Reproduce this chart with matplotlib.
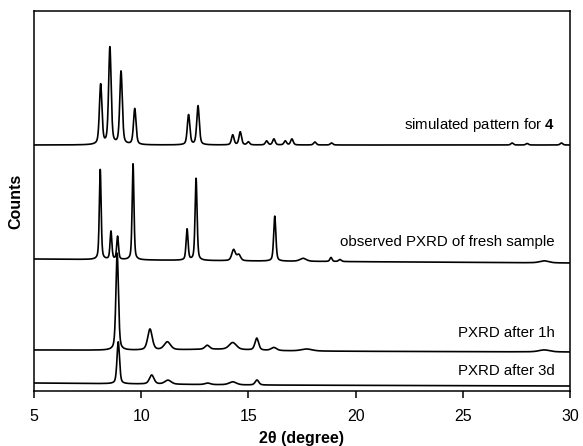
import numpy as np
import matplotlib
matplotlib.use('Agg')
import matplotlib.pyplot as plt

plt.rcParams['font.family'] = ['Liberation Sans', 'DejaVu Sans']
plt.rcParams['mathtext.fontset'] = 'custom'
plt.rcParams['mathtext.rm'] = 'Liberation Sans'
plt.rcParams['mathtext.bf'] = 'Liberation Sans:bold'

# peak tables: position (2theta), height, FWHM
sim_pos = [8.11, 8.54, 9.06, 9.70, 12.21, 12.65, 14.27, 14.62, 15.00,
           15.85, 16.19, 16.72, 17.03, 18.10, 18.88, 27.3, 28.0, 29.6]
sim_h = [60, 97, 73, 36, 30, 39, 10, 13, 3, 4, 6, 4, 6, 3, 2, 2, 1.5, 2]
sim_w = [0.14] * 18

fresh_pos = [8.09, 8.59, 8.90, 9.62, 12.14, 12.56, 14.31, 14.55, 16.23,
             17.55, 18.85, 19.27, 28.8]
fresh_h = [90, 28, 23, 96, 31, 82, 11, 6, 45, 3, 4, 2, 2]
fresh_w = [0.10, 0.10, 0.10, 0.10, 0.11, 0.11, 0.20, 0.20, 0.12,
           0.35, 0.12, 0.15, 0.5]

h1_pos = [8.88, 10.41, 11.22, 13.08, 14.27, 15.39, 16.19, 17.72, 28.8, 13.5]
h1_h = [97, 21, 8, 4, 7, 12, 3, 2, 2, 1.5]
h1_w = [0.14, 0.25, 0.35, 0.25, 0.40, 0.20, 0.30, 0.60, 0.60, 4.0]

d3_pos = [8.93, 10.49, 11.25, 13.1, 14.27, 15.40]
d3_h = [42, 9, 4, 1.5, 3, 5]
d3_w = [0.14, 0.25, 0.35, 0.30, 0.40, 0.20]

# baselines (offsets of each trace), at 2theta = 5, 15, 30
base_x = [5, 15, 30]
sim_base = [246, 246, 246]
fresh_base = [132, 130, 128]
h1_base = [41, 40, 39]
d3_base = [8, 6, 5]

labels = ['simulated pattern for $\\mathbf{4}$',
          'observed PXRD of fresh sample',
          'PXRD after 1h',
          'PXRD after 3d']
label_y = [266, 149, 58, 20]


def pattern(x, pos, h, w, base, eta=0.45):
    y = np.interp(x, base_x, base).astype(float)
    for p, a, fw in zip(pos, h, w):
        hw = fw / 2
        lor = 1 / (1 + ((x - p) / hw) ** 2)
        gau = np.exp(-np.log(2) * ((x - p) / hw) ** 2)
        y += a * (eta * lor + (1 - eta) * gau)
    return y


x = np.arange(5, 30.001, 0.005)

fig = plt.figure(figsize=(5.83, 4.46), dpi=100)
ax = fig.add_axes([0.0583, 0.1233, 0.9194, 0.852])

ax.plot(x, pattern(x, sim_pos, sim_h, sim_w, sim_base), color='black', lw=1.2)
ax.plot(x, pattern(x, fresh_pos, fresh_h, fresh_w, fresh_base), color='black', lw=1.2)
ax.plot(x, pattern(x, h1_pos, h1_h, h1_w, h1_base), color='black', lw=1.2)
ax.plot(x, pattern(x, d3_pos, d3_h, d3_w, d3_base), color='black', lw=1.2)

for lab, ly in zip(labels, label_y):
    ax.text(29.3, ly, lab, ha='right', va='center', fontsize=10.8)

ax.set_xlim(5, 30)
ax.set_ylim(0, 380)
ax.set_xticks([5, 10, 15, 20, 25, 30])
ax.set_yticks([])
ax.tick_params(axis='x', direction='out', length=5, width=1.1, labelsize=11.5, pad=8)
for s in ax.spines.values():
    s.set_linewidth(1.1)

ax.set_xlabel('2θ (degree)', fontsize=11.5, fontweight='bold', labelpad=5)
ax.set_ylabel('Counts', fontsize=11.5, fontweight='bold', labelpad=8)

plt.savefig('out.png', dpi=100)
plt.close()
